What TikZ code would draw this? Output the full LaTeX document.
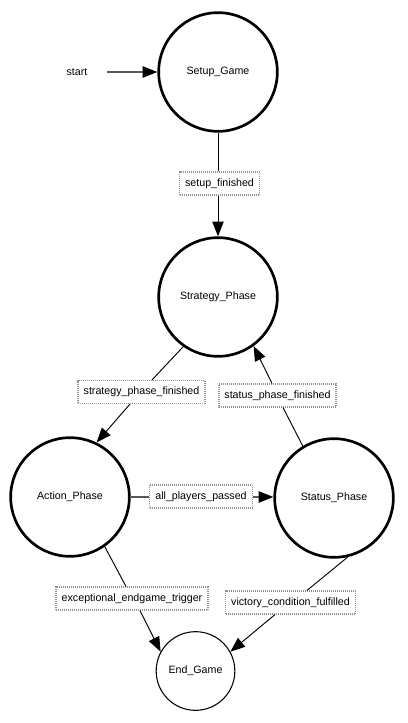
\documentclass[tikz,border=0pt]{standalone}
\usepackage{fontspec}
\setmainfont{Liberation Sans}
\usetikzlibrary{arrows.meta,calc}
\begin{document}
\begin{tikzpicture}[x=0.75pt,y=-0.75pt,
  font=\fontsize{8}{10}\selectfont,
  state/.style={circle,draw,line width=2pt,minimum size=89pt,inner sep=0pt},
  finalstate/.style={circle,draw,line width=0.8pt,minimum size=59pt,inner sep=0pt},
  lbl/.style={draw=gray!85,line width=1.1pt,dash pattern=on 0.75pt off 0.75pt,fill=white,inner xsep=4.2pt,minimum height=17pt,inner ysep=0pt},
  edge/.style={line width=0.7pt},
  arr/.style={line width=0.7pt,-{Triangle[length=11pt,width=8.5pt,color=black]}}
]
\path[use as bounding box] (0,0) rectangle (407,723);

\node (start) at (77,72) {start};
\node[state] (setup) at (218,72) {Setup\_Game};
\node[state] (strat) at (218,297) {Strategy\_Phase};
\node[state] (action) at (70,497) {Action\_Phase};
\node[state] (status) at (334,498) {Status\_Phase};
\node[finalstate] (end) at (195.5,671) {End\_Game};

\node[lbl] (l1) at (219.5,183.5) {setup\_finished};
\node[lbl] (l2) at (141.5,392) {strategy\_phase\_finished};
\node[lbl] (l3) at (277.5,395.5) {status\_phase\_finished};
\node[lbl] (l4) at (201,496.5) {all\_players\_passed};
\node[lbl] (l5) at (132,598.5) {exceptional\_endgame\_trigger};
\node[lbl] (l6) at (290.5,602.5) {victory\_condition\_fulfilled};

\coordinate (s0) at (107,72);
\draw[arr,draw=gray!70!black,line width=1pt] (s0) -- (setup);

% setup -> strategy
\draw[edge] (setup.south) -- (218,0 |- l1.north);
\draw[arr] (218,0 |- l1.south) -- (strat.north);

% strategy -> action
\draw[edge] (strat.235.5) -- (152,0 |- l2.north);
\draw[arr] (130,0 |- l2.south) -- (action.64);

% status -> strategy
\draw[edge] (status.121) -- (283,0 |- l3.south);
\draw[arr] (272,0 |- l3.north) -- (strat.306);

% action -> status
\draw[edge,draw=gray!70!black,line width=1pt] (action.east) -- (l4.west |- action.east);
\draw[arr,draw=gray!70!black,line width=1pt] (l4.east |- action.east) -- (status.west |- action.east);

% action -> end
\draw[edge] (action.305) -- (126,0 |- l5.north);
\draw[arr] (140,0 |- l5.south) -- (end.151);

% status -> end
\draw[edge] (status.283) -- (307,0 |- l6.north);
\draw[arr] (275,0 |- l6.south) -- (end.29);
\end{tikzpicture}
\end{document}
